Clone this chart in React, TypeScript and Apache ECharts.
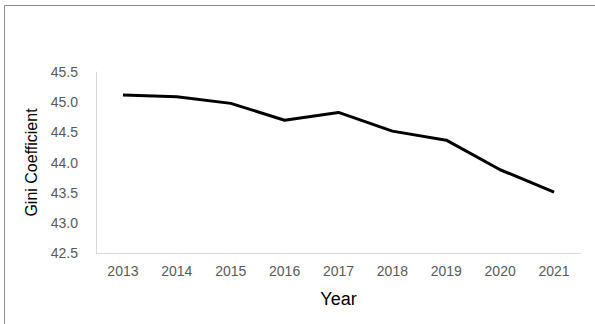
import React, { useEffect, useRef } from "react";
import * as echarts from "echarts";

const years = ["2013", "2014", "2015", "2016", "2017", "2018", "2019", "2020", "2021"];
const gini = [45.12, 45.09, 44.98, 44.7, 44.83, 44.52, 44.37, 43.88, 43.51];

export default function App() {
  const ref = useRef<HTMLDivElement>(null);
  useEffect(() => {
    if (!ref.current) return;
    const chart = echarts.init(ref.current, null, { renderer: "svg" });
    chart.setOption({
      animation: false,
      backgroundColor: "#ffffff",
      textStyle: { fontFamily: "Liberation Sans, Arial, sans-serif" },
      grid: { left: 96, top: 72, right: 14, bottom: 71, containLabel: false },
      graphic: [
        {
          type: "line",
          shape: { x1: 4.5, y1: 5.5, x2: 595, y2: 5.5 },
          style: { stroke: "#8c8c8c", lineWidth: 1 },
          silent: true,
        },
        {
          type: "line",
          shape: { x1: 4.5, y1: 5.5, x2: 4.5, y2: 324 },
          style: { stroke: "#8c8c8c", lineWidth: 1 },
          silent: true,
        },
      ],
      xAxis: {
        type: "category",
        data: years,
        boundaryGap: true,
        name: "Year",
        nameLocation: "middle",
        nameGap: 37,
        nameTextStyle: { fontSize: 18, color: "#000000" },
        axisLine: { show: true, lineStyle: { color: "#d9d9d9", width: 1 } },
        axisTick: { show: false },
        axisLabel: { fontSize: 14, color: "#595959", margin: 11 },
        splitLine: { show: false },
      },
      yAxis: {
        type: "value",
        min: 42.5,
        max: 45.5,
        interval: 0.5,
        name: "Gini Coefficient",
        nameLocation: "middle",
        nameGap: 47,
        nameTextStyle: { fontSize: 16, color: "#000000" },
        axisLine: { show: true, lineStyle: { color: "#d9d9d9", width: 1 } },
        axisTick: { show: false },
        axisLabel: {
          fontSize: 14,
          color: "#595959",
          margin: 18,
          formatter: (v: number) => v.toFixed(1),
        },
        splitLine: { show: false },
      },
      series: [
        {
          type: "line",
          data: gini,
          showSymbol: false,
          symbol: "none",
          lineStyle: { color: "#000000", width: 3 },
          itemStyle: { color: "#000000" },
        },
      ],
    });
    return () => chart.dispose();
  }, []);
  return (
    <div
      ref={ref}
      style={{ position: "absolute", left: 0, top: 0, width: 595, height: 324 }}
    />
  );
}
